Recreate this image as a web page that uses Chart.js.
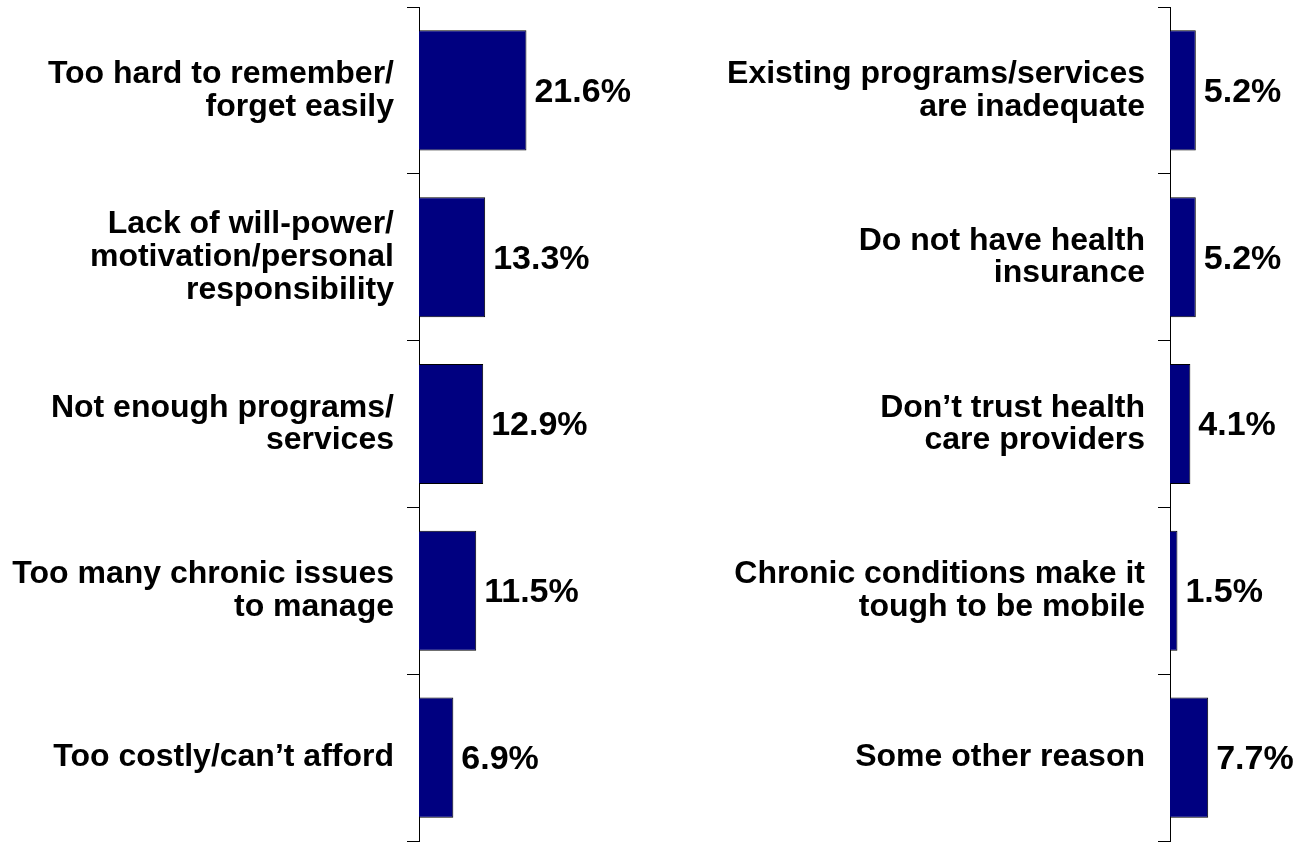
<!DOCTYPE html>
<html>
<head>
<meta charset="utf-8">
<script src="https://cdn.jsdelivr.net/npm/chart.js@4"></script>
<style>
  html, body { margin: 0; padding: 0; background: #fff; }
  #wrap { position: relative; width: 1306px; height: 844px; }
  canvas { position: absolute; top: 0; }
</style>
</head>
<body>
<div id="wrap">
  <canvas id="leftChart" width="653" height="844" style="left:0"></canvas>
  <canvas id="rightChart" width="653" height="844" style="left:653px"></canvas>
</div>
<script>
// reasons, left panel
const leftLabels = [
  ["Too hard to remember/", "forget easily"],
  ["Lack of will-power/", "motivation/personal", "responsibility"],
  ["Not enough programs/", "services"],
  ["Too many chronic issues", "to manage"],
  "Too costly/can\u2019t afford"
];
const leftValues = [21.6, 13.3, 12.9, 11.5, 6.9];

// reasons, right panel
const rightLabels = [
  ["Existing programs/services", "are inadequate"],
  ["Do not have health", "insurance"],
  ["Don\u2019t trust health", "care providers"],
  ["Chronic conditions make it", "tough to be mobile"],
  "Some other reason"
];
const rightValues = [5.2, 5.2, 4.1, 1.5, 7.7];

const FONT = "'Liberation Sans', Arial, sans-serif";

// value labels at the end of each bar
const valueLabels = {
  id: "valueLabels",
  afterDatasetsDraw(chart) {
    const ctx = chart.ctx;
    const meta = chart.getDatasetMeta(0);
    const data = chart.data.datasets[0].data;
    ctx.save();
    ctx.font = "bold 34px " + FONT;
    ctx.fillStyle = "#000";
    ctx.textAlign = "left";
    ctx.textBaseline = "middle";
    meta.data.forEach((bar, i) => {
      ctx.fillText(data[i].toFixed(1) + "%", bar.x + 8, bar.y + 2);
    });
    ctx.restore();
  }
};

function makeChart(id, labels, values, axisWidth, xMax, padRight) {
  return new Chart(document.getElementById(id), {
    type: "bar",
    data: {
      labels: labels,
      datasets: [{
        data: values,
        backgroundColor: "#000080",
        borderColor: "#000",
        borderWidth: 1,
        categoryPercentage: 1,
        barPercentage: 0.72
      }]
    },
    options: {
      indexAxis: "y",
      responsive: false,
      animation: false,
      layout: { padding: { top: 7, bottom: 3, left: 0, right: padRight } },
      plugins: { legend: { display: false }, tooltip: { enabled: false } },
      scales: {
        x: { display: false, min: 0, max: xMax },
        y: {
          afterFit: s => {
            s.width = axisWidth;
            s.paddingTop = 0;
            s.paddingBottom = 0;
          },
          border: { display: true, color: "#000", width: 1 },
          grid: {
            offset: true,
            drawOnChartArea: false,
            drawTicks: true,
            tickLength: 12,
            color: "#000",
            lineWidth: 1
          },
          ticks: {
            color: "#000",
            padding: 13,
            font: { family: FONT, size: 32, weight: "bold", lineHeight: 1.02 }
          }
        }
      }
    },
    plugins: [valueLabels]
  });
}

makeChart("leftChart", leftLabels, leftValues, 419, 40, 35);
makeChart("rightChart", rightLabels, rightValues, 517, 25, 12);
</script>
</body>
</html>
